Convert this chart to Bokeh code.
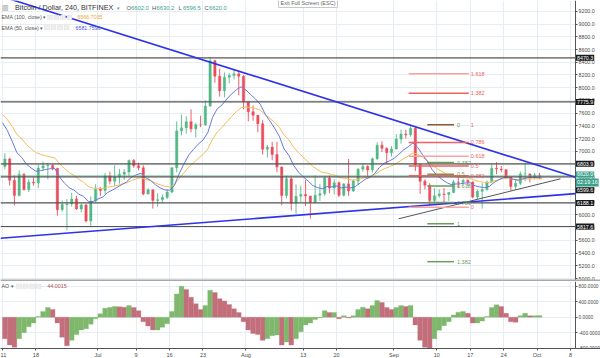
import datetime as dt
from bokeh.plotting import figure
from bokeh.layouts import column
from bokeh.models import (Range1d, FixedTicker, NumeralTickFormatter, Span, LinearAxis,
                          Label, BoxAnnotation, ColumnDataSource)
from bokeh.core.properties import value
from bokeh.embed import file_html
from bokeh.resources import INLINE

FONT = "Liberation Sans"

# ---------------- data (daily candles, BTC/USD Bitfinex, from 2018-06-11) ----------------
start_date = "2018-06-11"
opens = [6760, 6880, 6545, 6306, 6637, 6400, 6514, 6500, 6736, 6770,
         6776, 6730, 6083, 6162, 6173, 6250, 6093, 6157, 5904, 6218,
         6404, 6385, 6614, 6529, 6597, 6639, 6673, 6857, 6773, 6741,
         6329, 6394, 6228, 6238, 6276, 6359, 6741, 7321, 7370, 7466,
         7354, 7419, 7418, 7711, 8424, 8182, 7951, 8165, 8192, 8218,
         8180, 7780, 7624, 7567, 7434, 7032, 7068, 6951, 6753, 6305,
         6568, 6184, 6295, 6322, 6297, 6199, 6308, 6334, 6580, 6423,
         6506, 6308, 6488, 6376, 6534, 6719, 6763, 6707, 6884, 7096,
         7047, 6978, 7037, 7193, 7272, 7260, 7361, 6792, 6529, 6467,
         6225, 6300, 6329, 6321, 6352, 6517, 6512, 6543, 6517, 6281,
         6371, 6398, 6519, 6734, 6721, 6711, 6595, 6446, 6496, 6644,
         6645, 6603, 6626]
highs = [6970, 6900, 6620, 6700, 6660, 6560, 6590, 6790, 6840, 6820,
         6800, 6740, 6230, 6250, 6350, 6300, 6180, 6170, 6290, 6480,
         6440, 6660, 6680, 6780, 6720, 6720, 6870, 6880, 6820, 6780,
         6420, 6400, 6340, 6320, 6400, 6750, 7470, 7580, 7550, 7660,
         7450, 7560, 7800, 8480, 8440, 8300, 8240, 8230, 8290, 8270,
         8200, 7780, 7720, 7570, 7490, 7100, 7150, 7150, 6760, 6620,
         6590, 6480, 6460, 6550, 6300, 6620, 6480, 6600, 6620, 6560,
         6530, 6500, 6880, 6560, 6740, 6810, 6780, 6900, 7140, 7160,
         7060, 7080, 7270, 7340, 7340, 7420, 7400, 6800, 6560, 6500,
         6420, 6400, 6420, 6360, 6550, 6620, 6570, 6560, 6530, 6400,
         6500, 6540, 6800, 6830, 6770, 6720, 6600, 6560, 6680, 6820,
         6650, 6660, 6660]
lows = [6720, 6460, 6150, 6290, 6380, 6360, 6460, 6420, 6700, 6560,
        6700, 5990, 6050, 5760, 6130, 6080, 6040, 5880, 5830, 6200,
        6300, 6330, 6480, 6450, 6490, 6550, 6600, 6740, 6700, 6310,
        6320, 6100, 6130, 6200, 6250, 6340, 6670, 7250, 7280, 7300,
        7220, 7380, 7400, 7700, 8080, 7860, 7850, 8070, 8130, 7880,
        7660, 7470, 7480, 7300, 6950, 6900, 6860, 6670, 6150, 6260,
        6070, 6020, 6200, 6140, 5940, 6180, 6220, 6300, 6340, 6320,
        6280, 6290, 6300, 6360, 6470, 6680, 6600, 6670, 6860, 6990,
        6800, 6920, 7030, 7120, 7200, 7230, 6690, 6330, 6400, 6150,
        6200, 6270, 6200, 6220, 6340, 6420, 6490, 6450, 6260, 6250,
        6100, 6380, 6500, 6640, 6670, 6560, 6380, 6400, 6470, 6530,
        6510, 6560, 6560]
closes = [6880, 6545, 6306, 6637, 6400, 6514, 6500, 6736, 6770, 6776,
          6730, 6083, 6162, 6173, 6250, 6093, 6157, 5904, 6218, 6404,
          6385, 6614, 6529, 6597, 6639, 6673, 6857, 6773, 6741, 6329,
          6394, 6228, 6238, 6276, 6359, 6741, 7321, 7370, 7466, 7354,
          7419, 7418, 7711, 8424, 8182, 7951, 8165, 8192, 8218, 8180,
          7780, 7624, 7567, 7434, 7032, 7068, 6951, 6753, 6305, 6568,
          6184, 6295, 6322, 6297, 6199, 6308, 6334, 6580, 6423, 6506,
          6308, 6488, 6376, 6534, 6719, 6763, 6707, 6884, 7096, 7047,
          6978, 7037, 7193, 7272, 7260, 7361, 6792, 6529, 6467, 6225,
          6300, 6329, 6321, 6352, 6517, 6512, 6543, 6517, 6281, 6371,
          6398, 6519, 6734, 6721, 6711, 6595, 6446, 6496, 6644, 6645,
          6603, 6626, 6620]

# EMA values read at day boundaries (first value = start of first day)
ema100 = [7580, 7501, 7393, 7270, 7198, 7108, 7041, 6979, 6951, 6931, 6913,
          6893, 6802, 6729, 6667, 6620, 6560, 6514, 6446, 6420, 6418,
          6414, 6436, 6446, 6463, 6483, 6504, 6540, 6566, 6586, 6557,
          6539, 6504, 6474, 6452, 6441, 6475, 6571, 6661, 6752, 6820,
          6888, 6948, 7034, 7191, 7304, 7377, 7466, 7548, 7624, 7687,
          7697, 7689, 7675, 7648, 7578, 7520, 7456, 7377, 7256, 7178,
          7066, 6979, 6905, 6836, 6764, 6712, 6669, 6659, 6632, 6618,
          6583, 6572, 6550, 6548, 6567, 6589, 6602, 6634, 6686, 6727,
          6755, 6787, 6833, 6883, 6926, 6975, 6954, 6906, 6856, 6785,
          6730, 6685, 6644, 6611, 6600, 6590, 6584, 6576, 6543, 6523,
          6509, 6510, 6535, 6556, 6573, 6576, 6560, 6553, 6560, 6566,
          6568, 6568, 6567]
ema50 = [7450, 7329, 7162, 6980, 6906, 6798, 6738, 6687, 6697, 6713, 6726,
         6727, 6590, 6498, 6426, 6389, 6326, 6290, 6208, 6210, 6251,
         6280, 6351, 6389, 6433, 6477, 6519, 6591, 6630, 6654, 6585,
         6544, 6477, 6426, 6394, 6387, 6462, 6645, 6799, 6941, 7029,
         7112, 7177, 7291, 7532, 7670, 7730, 7823, 7902, 7969, 8014,
         7964, 7892, 7823, 7740, 7589, 7478, 7366, 7235, 7037, 6937,
         6777, 6674, 6599, 6535, 6463, 6430, 6410, 6446, 6441, 6455,
         6424, 6438, 6425, 6448, 6506, 6561, 6592, 6654, 6748, 6812,
         6847, 6887, 6952, 7020, 7071, 7133, 7060, 6947, 6845, 6713,
         6625, 6562, 6511, 6477, 6486, 6491, 6502, 6505, 6457, 6439,
         6430, 6449, 6510, 6555, 6588, 6590, 6559, 6546, 6567, 6584,
         6588, 6590, 6582]

# Awesome Oscillator (daily reading)
ao = [-560, -720, -780, -560, -400, -250, -150, 20, 150, 250,
      200, -150, -520, -740, -600, -450, -330, -300, -180, -40,
      90, 230, 250, 280, 270, 260, 300, 250, 170, -120,
      -230, -330, -330, -260, -170, 150, 600, 800, 720, 520,
      350, 200, 300, 700, 640, 480, 420, 330, 220, 120,
      -120, -330, -420, -450, -600, -560, -480, -460, -720, -640,
      -720, -560, -380, -200, -150, -60, -20, 170, 120, 120,
      -40, 40, -20, 40, 200, 260, 220, 300, 430, 380,
      250, 200, 250, 300, 280, 300, -200, -600, -780, -840,
      -560, -340, -220, -120, 60, 130, 150, 100, -150, -150,
      -100, 20, 250, 320, 280, 100, -120, -130, 40, 100,
      40, 40, 44]

# horizontal price levels
h_levels = [8470.3, 7775.9, 6803.9, 6599.6, 6188.1, 5817.6]
last_price = 6620.0

# trendline anchors (day index, price)
upper_tl_days = [43, 109]
upper_tl_prices = [8414, 6854]
lower_tl_days = [13, 64]
lower_tl_prices = [5711, 6008]
gray_tl_days = [83.0, 116.9]
gray_tl_prices = [5939, 6568]

# fibonacci drawings
fib_red_days = [85.1, 97.7]
fib_red_p0, fib_red_p1 = 6121, 7418
fib_red_levels = [0, 0.382, 0.5, 0.618, 0.786, 1, 1.382, 1.618]
fib_red_texts = ["0", "0.382", "0.5", "0.618", "0.786", "1", "1.382", "1.618"]
fib_green_days = [89.0, 94.6]
fib_green_p0, fib_green_p1 = 7418, 5860
fib_green_levels = [0, 0.382, 0.5, 0.618, 0.786, 1, 1.382]
fib_green_texts = ["0", "0.382", "0.5", "0.618", "0.786", "1", "1.382"]

# time axis
tick_dates = ["2018-06-11", "2018-06-18", "2018-07-01", "2018-07-09", "2018-07-16",
              "2018-07-23", "2018-08-01", "2018-08-13", "2018-08-20", "2018-09-01",
              "2018-09-10", "2018-09-17", "2018-09-24", "2018-10-01", "2018-10-08"]
tick_labels = ["11", "18", "Jul", "9", "16", "23", "Aug", "13", "20", "Sep",
               "10", "17", "24", "Oct", "8"]
price_ticks = list(range(5000, 9201, 200))
ao_ticks = [-800, -400, 0, 400, 800]

# ---------------- helpers ----------------
d0 = dt.date.fromisoformat(start_date)
tick_days = [(dt.date.fromisoformat(s) - d0).days for s in tick_dates]
n = len(closes)
cx = [i + 0.5 for i in range(n)]

UP, DOWN = "#53b987", "#eb4d5c"
GRID = "#e6edf3"
AXC = "#4a4a4a"
MAIN_H, AO_H = 281, 67
PX_DAY = 4.773
xr = Range1d(-2 / PX_DAY, 598 / PX_DAY)
AXIS_X = 573 / PX_DAY           # price scale sits at pixel 575
X_START = xr.start


def style_axis(ax, fmt, size):
    ax.formatter = NumeralTickFormatter(format=fmt)
    ax.major_label_text_font = FONT
    ax.major_label_text_font_size = size
    ax.major_label_text_color = AXC
    ax.axis_line_color = "#555555"
    ax.major_tick_line_color = "#555555"
    ax.major_tick_out = 2
    ax.major_tick_in = 0
    ax.minor_tick_line_color = None
    ax.major_label_standoff = 1


def ui(fig, fh, px, py, text, size, color, align="left", **kw):
    fig.add_layout(Label(x=px, y=fh - py, x_units="screen", y_units="screen",
                         text=text, text_font=FONT, text_font_size=f"{size}px",
                         text_color=color, text_align=align, text_baseline="middle", **kw))


def ui_box(fig, fh, x0, y0, x1, y1):
    fig.add_layout(BoxAnnotation(left=x0, right=x1, top=fh - y0, bottom=fh - y1,
                                 left_units="screen", right_units="screen",
                                 top_units="screen", bottom_units="screen",
                                 fill_color="#eeeeee", fill_alpha=1,
                                 line_color="#c6c6c6", line_width=0.7))


def line_y(dys, prs, x):
    g = (prs[1] - prs[0]) / (dys[1] - dys[0])
    return prs[0] + g * (x - dys[0])


# ---------------- main price pane ----------------
main = figure(frame_width=600, frame_height=MAIN_H, x_range=xr,
              y_range=Range1d(4953, 9371.3), y_axis_location=None,
              x_axis_location=None, output_backend="svg", toolbar_location=None,
              min_border_left=0, min_border_right=0, min_border_top=0, min_border_bottom=0)
main.outline_line_color = None
main.xgrid.ticker = FixedTicker(ticks=tick_days)
main.ygrid.ticker = FixedTicker(ticks=price_ticks)
main.xgrid.grid_line_color = GRID
main.ygrid.grid_line_color = GRID
# blank price-scale strip (covers grid only)
main.add_layout(BoxAnnotation(left=AXIS_X, fill_color="white", fill_alpha=1,
                              line_color=None, level="underlay"))
yax = LinearAxis(fixed_location=AXIS_X, ticker=FixedTicker(ticks=price_ticks))
style_axis(yax, "0.0", "5.3px")
main.add_layout(yax, "right")

colors = [UP if c >= o else DOWN for o, c in zip(opens, closes)]
src = ColumnDataSource(dict(x=cx, h=highs, l=lows,
                            top=[max(o, c) for o, c in zip(opens, closes)],
                            bot=[min(o, c) for o, c in zip(opens, closes)],
                            color=colors))
main.segment(x0="x", y0="l", x1="x", y1="h", line_color="color", line_width=0.9, source=src)
main.vbar(x="x", width=0.5, top="top", bottom="bot", fill_color="color",
          line_color="color", line_width=0.4, source=src)

ema_x = list(range(len(ema100)))
main.line(ema_x, ema100, line_color="#f5bd55", line_width=1)
main.line(ema_x, ema50, line_color="#6a78dc", line_width=1)

main.segment(x0=[X_START] * len(h_levels), x1=[AXIS_X] * len(h_levels),
             y0=h_levels, y1=h_levels, line_color="#555555", line_width=1.2)
main.segment(x0=[X_START], x1=[AXIS_X], y0=[last_price], y1=[last_price],
             line_color="#53b987", line_width=1, line_dash="1 1")

for dys, prs in ((upper_tl_days, upper_tl_prices), (lower_tl_days, lower_tl_prices)):
    main.line([X_START, AXIS_X], [line_y(dys, prs, X_START), line_y(dys, prs, AXIS_X)],
              line_color="#2f33e6", line_width=1.6)
main.line(gray_tl_days, gray_tl_prices, line_color="#555555", line_width=1)

# fib (red)
RED, RED_L = "#ef6262", "#f5a3a3"
rp = [fib_red_p0 + lv * (fib_red_p1 - fib_red_p0) for lv in fib_red_levels]
rcol = [RED_L if t in ("0", "0.618", "1.618") else RED for t in fib_red_texts]
line_idx = [i for i, t in enumerate(fib_red_texts) if t != "1"]
main.segment(x0=[fib_red_days[0]] * len(line_idx), x1=[fib_red_days[1]] * len(line_idx),
             y0=[rp[i] for i in line_idx], y1=[rp[i] for i in line_idx],
             line_color=[rcol[i] for i in line_idx], line_width=1.5)
main.text(x=[fib_red_days[1]] * len(rp), y=rp, text=fib_red_texts,
          text_font=value(FONT), text_font_size=value("5.5px"), text_color=RED,
          text_baseline="middle", text_align="left", x_offset=2)
# fib (green)
GRN = "#6c9c58"
gp = [fib_green_p0 + lv * (fib_green_p1 - fib_green_p0) for lv in fib_green_levels]
gcol = ["#8a5a3a" if t == "0" else GRN for t in fib_green_texts]
main.segment(x0=[fib_green_days[0]] * len(gp), x1=[fib_green_days[1]] * len(gp),
             y0=gp, y1=gp, line_color=gcol, line_width=1.5)
main.text(x=[fib_green_days[1]] * len(gp), y=gp, text=fib_green_texts,
          text_font=value(FONT), text_font_size=value("5.5px"), text_color=GRN,
          text_baseline="middle", text_align="left", x_offset=3)

# pane separator
main.add_layout(Span(location=4968.7, dimension="width", line_color="#a8a8a8", line_width=2))


# price tags on the scale
def tag(price, text, bg, dy=0):
    main.add_layout(Label(x=AXIS_X, y=price, text=text, text_font=FONT,
                          text_font_size="5.3px", text_color="white", text_align="left",
                          text_baseline="middle", background_fill_color=bg,
                          padding=1, x_offset=0.5, y_offset=dy))


for lv in h_levels:
    tag(lv, f"{lv:.1f}", "#1b1b1b", dy=(-13.5 if lv == 6599.6 else 0))
tag(last_price, f"{last_price:.1f}", "#3aa28c", dy=1)
tag(last_price, "02:19:16", "#3aa28c", dy=-7)

# legend texts
ui(main, MAIN_H, 1.5, 7, "\u25a5", 7, "#8a8a8a")
ui(main, MAIN_H, 14.5, 7, "Bitcoin / Dollar, 240, BITFINEX", 7.2, "#333333")
ui(main, MAIN_H, 116, 7, "\u25be", 5, "#888888")
for px, letter, val in ((126, "O", "6602.0"), (151.5, "H", "6630.2"),
                        (178, "L", "6596.5"), (204, "C", "6620.0")):
    ui(main, MAIN_H, px, 7, letter, 5.8, "#555555")
    ui(main, MAIN_H, px + 4.6, 7, val, 5.8, "#3aa28c")
ui(main, MAIN_H, 1, 16.7, "EMA (100, close) \u25be", 5.3, "#555555")
for bx in (47, 53.5, 60, 66.5):
    ui_box(main, MAIN_H, bx, 14.5, bx + 5, 19)
ui(main, MAIN_H, 77, 16.7, "6566.7035", 5.3, "#f0a92e")
ui(main, MAIN_H, 1, 27, "EMA (50, close) \u25be", 5.3, "#555555")
for bx in (44, 50.5, 57, 63.5):
    ui_box(main, MAIN_H, bx, 24.8, bx + 5, 29.3)
ui(main, MAIN_H, 75, 27, "6581.7596", 5.3, "#4a58d6")
ui(main, MAIN_H, 278, 2, "Exit Full Screen (ESC)", 5.5, "#666666",
   background_fill_color="white", border_line_color="#c8c8c8", padding=2)

# ---------------- AO pane ----------------
aof = figure(frame_width=600, frame_height=AO_H, x_range=xr, y_range=Range1d(-811, 925),
             y_axis_location=None, output_backend="svg", toolbar_location=None,
             min_border_left=0, min_border_right=0, min_border_top=0, min_border_bottom=0)
aof.outline_line_color = None
aof.xgrid.ticker = FixedTicker(ticks=tick_days)
aof.ygrid.ticker = FixedTicker(ticks=ao_ticks)
aof.xgrid.grid_line_color = GRID
aof.ygrid.grid_line_color = GRID
aof.add_layout(BoxAnnotation(left=AXIS_X, fill_color="white", fill_alpha=1,
                             line_color=None, level="underlay"))
aoy = LinearAxis(fixed_location=AXIS_X, ticker=FixedTicker(ticks=ao_ticks))
style_axis(aoy, "0.0000", "4.8px")
aof.add_layout(aoy, "right")
aof.xaxis.ticker = FixedTicker(ticks=tick_days)
aof.xaxis.major_label_overrides = {d: t for d, t in zip(tick_days, tick_labels)}
aof.xaxis.major_label_text_font = FONT
aof.xaxis.major_label_text_font_size = "5.5px"
aof.xaxis.major_label_text_color = AXC
aof.xaxis.axis_line_color = "#555555"
aof.xaxis.major_tick_line_color = "#555555"
aof.xaxis.major_tick_out = 2
aof.xaxis.major_tick_in = 0
aof.xaxis.minor_tick_line_color = None
aof.xaxis.major_label_standoff = 1

ao_colors = ["#c26f7b"] + ["#7fb86c" if ao[i] >= ao[i - 1] else "#c26f7b" for i in range(1, n)]
aof.vbar(x=cx, width=1.0, top=ao, bottom=0, fill_color=ao_colors, line_color=ao_colors,
         line_width=0.3)

ui(aof, AO_H, 1, 4.7, "AO \u25be", 5.3, "#555555")
for bx in (16, 22.5, 29, 35.5):
    ui_box(aof, AO_H, bx, 2.5, bx + 5, 7)
ui(aof, AO_H, 47, 4.7, "44.0015", 5.3, "#b0524f")

layout = column(main, aof, spacing=0)
open("out.html", "w").write(file_html(layout, INLINE))
